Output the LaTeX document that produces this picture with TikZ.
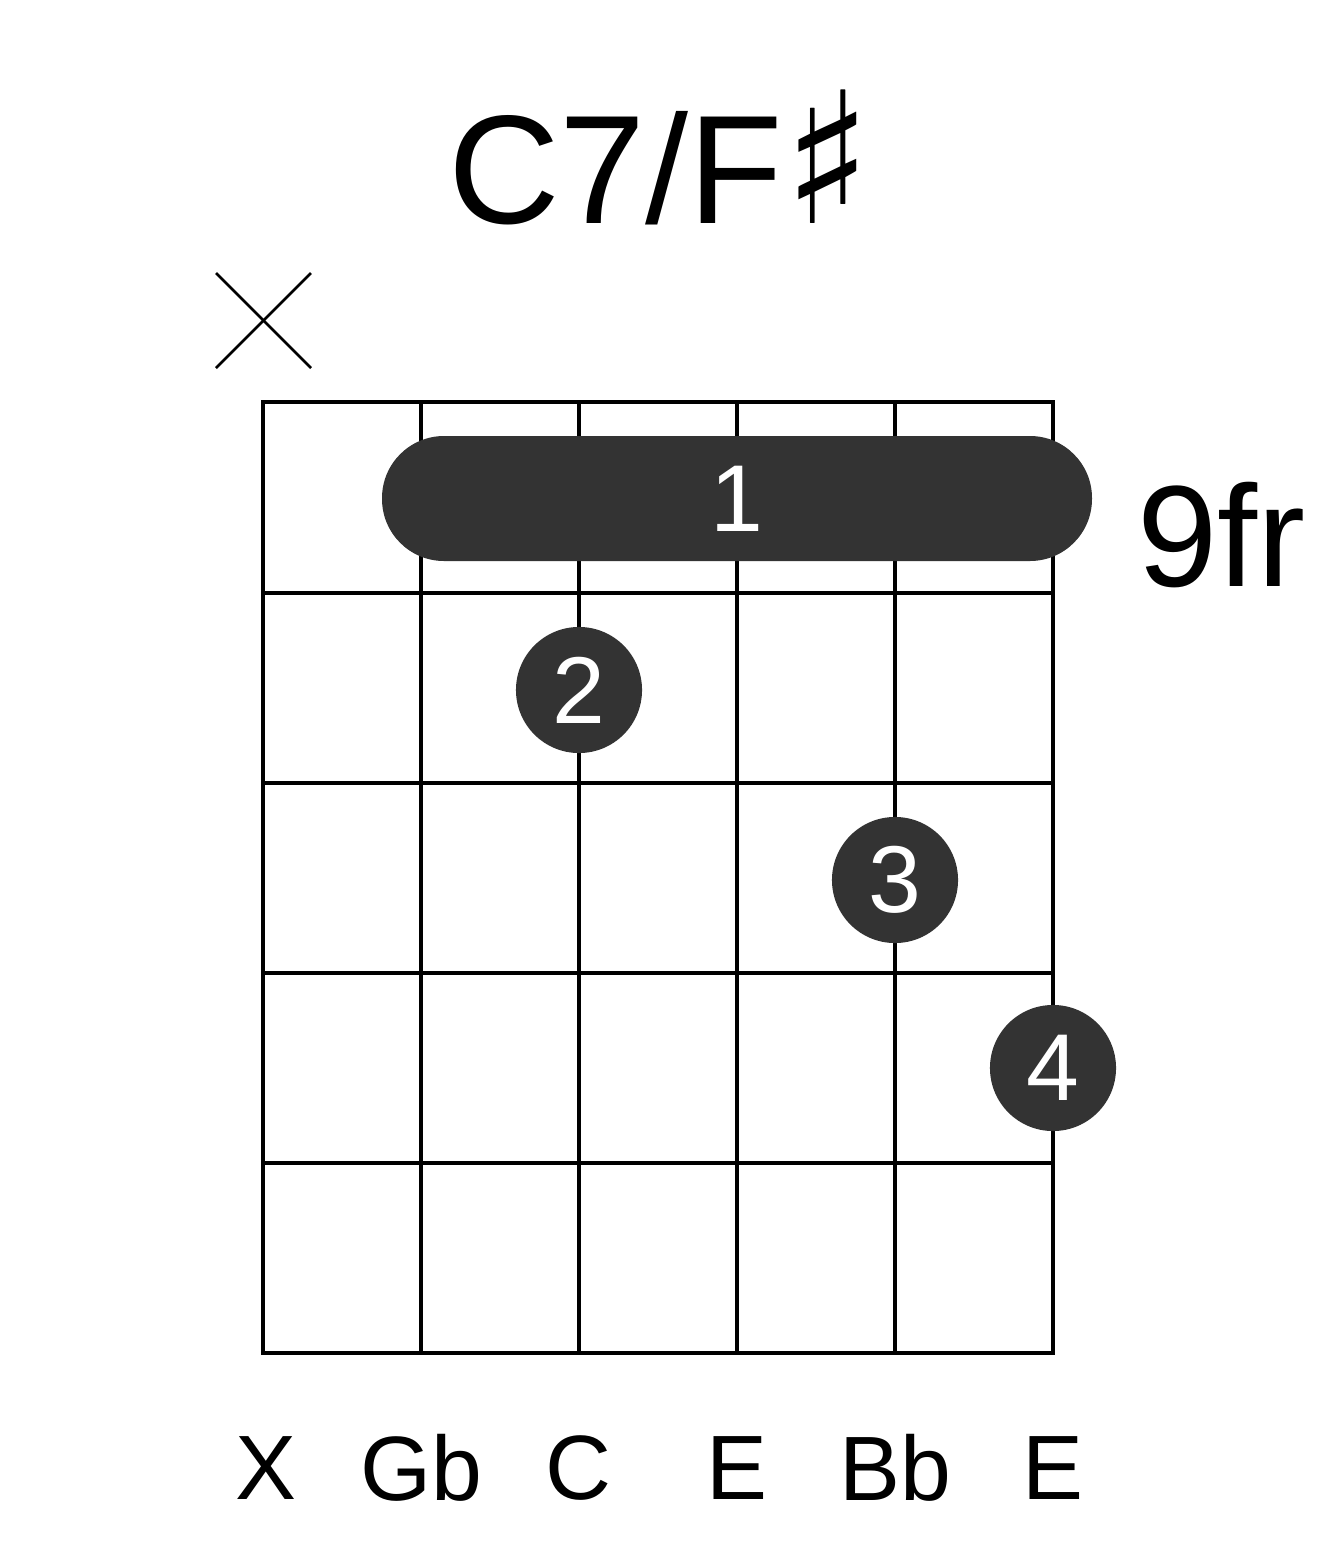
\documentclass[tikz,border=0pt]{standalone}
\usepackage{fontspec}
\setmainfont{Liberation Sans}
\newfontfamily\symfont{DejaVu Sans}
\usepackage{tikz}
\definecolor{dotgray}{HTML}{333333}
\tikzset{
  fretline/.style={line width=1.15pt,line cap=rect},
  finger/.style={circle,fill=dotgray,minimum size=1.26cm,inner sep=0pt,text=white,font=\fontsize{27}{27}\selectfont},
  notename/.style={font=\fontsize{26}{26}\selectfont}
}
\begin{document}
\begin{tikzpicture}[x=0.01cm,y=-0.01cm]
\useasboundingbox (0,0) rectangle (1317,1551);
\node (title) at (660,157) {\fontsize{44}{44}\selectfont C7/F{\symfont\fontsize{52}{52}\selectfont\char"266F}};
\draw[line width=0.8pt] (216,273) -- (311,368);
\draw[line width=0.8pt] (216,368) -- (311,273);
\foreach \s in {263,421,579,737,895,1053}
  \draw[fretline] (\s,402) -- (\s,1353);
\foreach \f in {402,593,783,973,1163,1353}
  \draw[fretline] (263,\f) -- (1053,\f);
\fill[dotgray,rounded corners=0.62cm] (382,436) rectangle (1092,561);
\node[text=white,font=\fontsize{27}{27}\selectfont] (barre) at (737,499) {1};
\node[font=\fontsize{41}{41}\selectfont,anchor=west] (fret) at (1125,535) {9fr};
\node[finger] (two) at (579,690) {2};
\node[finger] (three) at (895,880) {3};
\node[finger] (four) at (1053,1068) {4};
\foreach \x/\n in {266/X,421/Gb,579/C,737/E,895/Bb,1053/E}
  \node[notename] at (\x,1468) {\n};
\end{tikzpicture}
\end{document}
